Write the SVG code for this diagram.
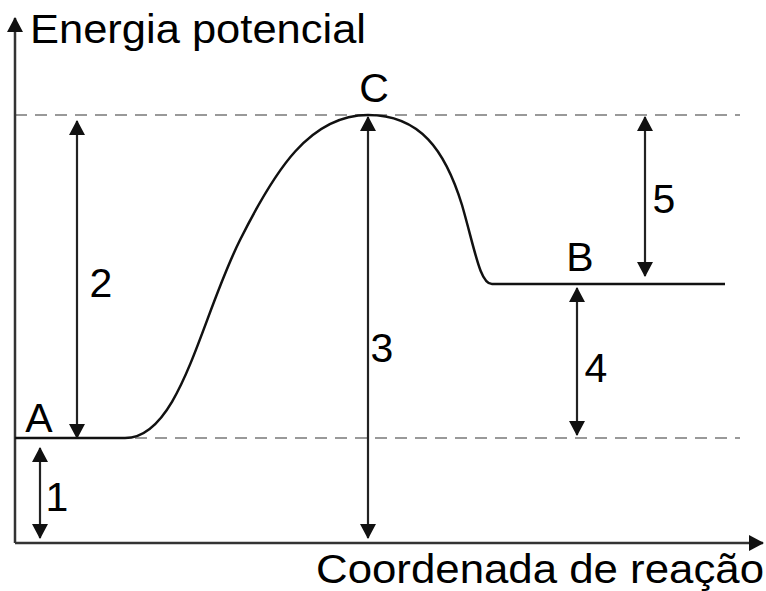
<svg xmlns="http://www.w3.org/2000/svg" width="766" height="591" viewBox="0 0 766 591">
<style>
text { font-family: "Liberation Sans", Arial, sans-serif; font-size: 41px; fill: #000; }
.lbl { text-anchor: middle; }
.dash { stroke: #999; stroke-width: 2; stroke-dasharray: 12 8; fill: none; }
.axis { stroke: #333; stroke-width: 2.5; fill: none; }
.arr { stroke: #222; stroke-width: 2.2; fill: none; }
.curve { stroke: #111; stroke-width: 2.5; fill: none; }
</style>
<defs>
<marker id="ah" markerUnits="userSpaceOnUse" markerWidth="15" markerHeight="16" refX="14" refY="8" orient="auto-start-reverse" viewBox="0 0 15 16">
<path d="M0,0 L15,8 L0,16 z" fill="#111"/>
</marker>
</defs>
<g id="guides">
<line class="dash" x1="15" y1="115" x2="740" y2="115"/>
<line class="dash" x1="15" y1="438" x2="740" y2="438"/>
</g>
<g id="axes">
<line class="axis" x1="15" y1="543" x2="15" y2="18" marker-end="url(#ah)"/>
<line class="axis" x1="15" y1="543" x2="763" y2="543" marker-end="url(#ah)"/>
<text x="30" y="43" textLength="336" lengthAdjust="spacingAndGlyphs">Energia potencial</text>
<text x="316" y="583" textLength="448" lengthAdjust="spacingAndGlyphs">Coordenada de reação</text>
</g>
<g id="curve">
<path class="curve" d="M15,438 L125,438 C180,438 200,320 240,240 C275,170 310,115 368,115 C420,115 445,150 462,205 C475,250 480,284 492,284 L725,284"/>
</g>
<g id="A"><text class="lbl" x="39" y="432">A</text></g>
<g id="B"><text class="lbl" x="580" y="271">B</text></g>
<g id="C"><text class="lbl" x="374" y="102">C</text></g>
<g id="connectors">
<line class="arr" x1="40" y1="448" x2="40" y2="538" marker-start="url(#ah)" marker-end="url(#ah)"/>
<line class="arr" x1="77" y1="121" x2="77" y2="438" marker-start="url(#ah)" marker-end="url(#ah)"/>
<line class="arr" x1="368" y1="117" x2="368" y2="538" marker-start="url(#ah)" marker-end="url(#ah)"/>
<line class="arr" x1="577" y1="288" x2="577" y2="435" marker-start="url(#ah)" marker-end="url(#ah)"/>
<line class="arr" x1="645" y1="117" x2="645" y2="276" marker-start="url(#ah)" marker-end="url(#ah)"/>
</g>
<g id="labels">
<text class="lbl" x="57" y="511">1</text>
<text class="lbl" x="101" y="297">2</text>
<text class="lbl" x="382" y="362">3</text>
<text class="lbl" x="596" y="382">4</text>
<text class="lbl" x="664" y="213">5</text>
</g>
</svg>
